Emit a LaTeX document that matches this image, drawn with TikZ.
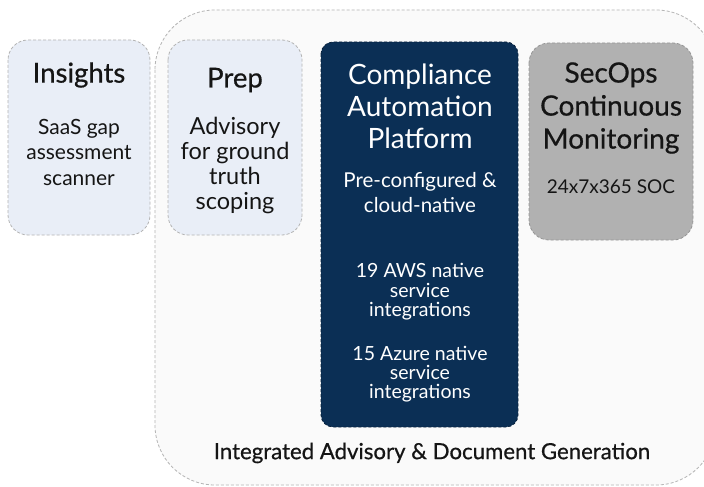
\documentclass[tikz,border=0pt]{standalone}
\usepackage{fontspec}
\setmainfont{Lato}
\newfontfamily\latomed{Lato}[FakeBold=0.6]
\definecolor{lightbox}{HTML}{E9EEF7}
\definecolor{navy}{HTML}{0B2F55}
\definecolor{secgray}{HTML}{B1B1B1}
\definecolor{outerfill}{HTML}{FAFAFA}
\definecolor{dashgray}{HTML}{B4B4B4}
\definecolor{txt}{HTML}{151515}
\tikzset{
  dashline/.style={dash pattern=on 3pt off 2pt, line width=0.8pt},
  lightcard/.style={dashline, draw=dashgray, fill=lightbox, rounded corners=20pt},
  navycard/.style={dashline, draw=navy!70!black, fill=navy, rounded corners=12pt},
  graycard/.style={dashline, draw=secgray!85!black, fill=secgray, rounded corners=20pt},
  outercard/.style={dashline, draw=dashgray, fill=outerfill, rounded corners=60pt},
  ttl/.style={font=\latomed\fontsize{27.5}{32}\selectfont, text=txt, align=center, inner sep=0pt},
  bodytxt/.style={font=\fontsize{21}{25.5}\selectfont, text=txt, align=center, inner sep=0pt},
}
\begin{document}
\begin{tikzpicture}[x=1pt,y=-1pt]
\useasboundingbox (0,0) rectangle (704,487);
\fill[white] (0,0) rectangle (704,487);
\clip (0,0) rectangle (704,487);
% outer container
\draw[outercard] (155,10) rectangle (716,485);
% cards
\draw[lightcard] (8,40) rectangle (150,235);
\draw[lightcard] (168,40) rectangle (302,235);
\draw[navycard] (321,42) rectangle (518,427);
\draw[graycard] (529,43) rectangle (693,240);
% Insights
\node[ttl] (insT) at (79,75) {Insights};
\node[bodytxt] (insB) at (79,152) {SaaS gap\\assessment\\scanner};
% Prep
\node[ttl] (prepT) at (235,80) {Prep};
\node[bodytxt, font=\fontsize{23.5}{25}\selectfont] (prepB) at (235,165) {Advisory\\for ground\\truth\\scoping};
% Compliance
\node[ttl, font=\fontsize{28}{32}\selectfont, text=white] (compT) at (420,106) {Compliance\\Automation\\Platform};
\node[bodytxt, font=\fontsize{20.5}{25}\selectfont, text=white] (compB) at (420,192.5) {Pre-configured \&\\cloud-native};
\node[bodytxt, font=\fontsize{19.5}{19.5}\selectfont, text=white] (aws) at (420,292) {19 AWS native\\service\\integrations};
\node[bodytxt, font=\fontsize{19.5}{19}\selectfont, text=white] (azure) at (420,374) {15 Azure native\\service\\integrations};
% SecOps
\node[ttl, font=\latomed\fontsize{28}{33}\selectfont] (secT) at (611,108) {SecOps\\Continuous\\Monitoring};
\node[bodytxt, font=\fontsize{19}{22}\selectfont] (secB) at (611,187) {24x7x365 SOC};
% footer
\node[ttl, font=\latomed\fontsize{22.2}{24}\selectfont] (foot) at (432,453) {Integrated Advisory \& Document Generation};
\end{tikzpicture}
\end{document}
